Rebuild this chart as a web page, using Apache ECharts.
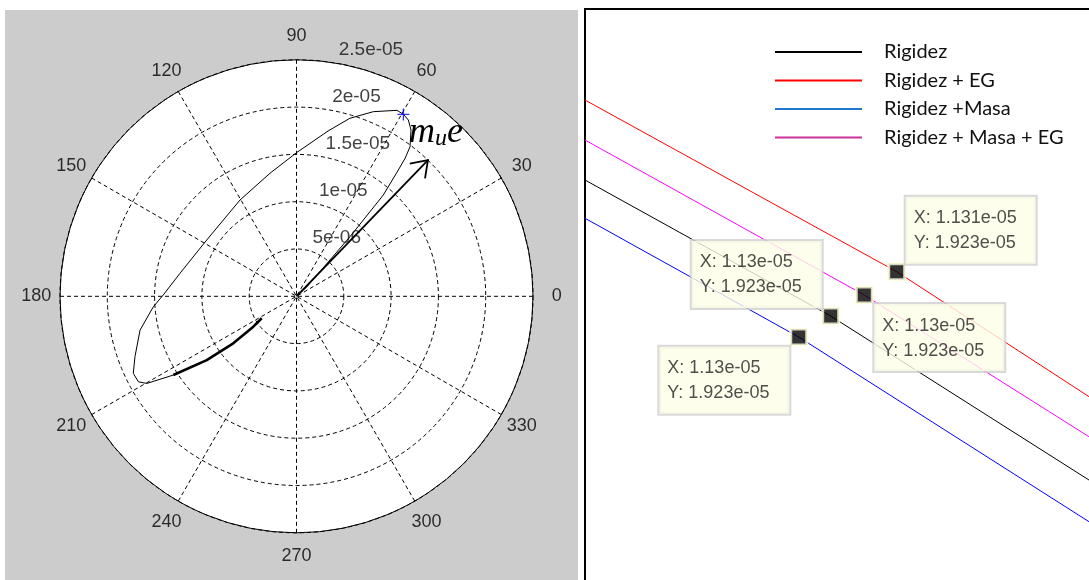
<!DOCTYPE html>
<html>
<head>
<meta charset="utf-8">
<title>Órbita polar y detalle del pico</title>
<script src="https://cdn.jsdelivr.net/npm/echarts@6.0.0/dist/echarts.min.js"></script>
<style>
  html, body { margin: 0; padding: 0; background: #ffffff; }
  #chart { width: 1089px; height: 580px; }
</style>
</head>
<body>
<div id="chart"></div>
<script>
// ---- Polar plot: ticks ----
const ANGLE_TICKS = [0, 30, 60, 90, 120, 150, 180, 210, 240, 270, 300, 330];
const RADIUS_TICKS = [5e-6, 1e-5, 1.5e-5, 2e-5, 2.5e-5];
const RADIUS_TICK_LABELS = ['5e-06', '1e-05', '1.5e-05', '2e-05', '2.5e-05'];
const R_MAX = 2.5e-5;
const R_STEP = 5e-6;

// ---- Polar plot: measured orbit (radius, angle in degrees) ----
const orbitRadius = [4.35e-6, 5.58e-6, 8.33e-6, 1.164e-5, 1.545e-5, 1.831e-5, 1.900e-5, 1.908e-5,
  1.823e-5, 1.692e-5, 1.518e-5, 1.408e-5, 1.255e-5, 1.120e-5, 1.180e-5, 1.330e-5, 1.520e-5,
  1.779e-5, 1.965e-5, 2.114e-5, 2.235e-5, 2.2304e-5, 2.207e-5, 2.134e-5, 1.985e-5, 1.856e-5,
  1.690e-5, 1.410e-5, 8.47e-6, 1.42e-6, 2.0e-7];
const orbitAngle = [212.3, 215.1, 216.6, 215.4, 212.6, 210.2, 208.4, 205.3,
  200.5, 192.2, 184.2, 179.4, 168.8, 147.9, 120.4, 102.2, 89.9,
  79.2, 73.3, 67.4, 61.6, 59.56, 57.6, 55.45, 52.8, 51.8,
  51.0, 49.4, 48.1, 42, 45];
const DENSE_COUNT = 5;     // first points of the orbit, traced many times
const PEAK_INDEX = 21;     // point marked with "+"

// unbalance vector m_u e
const unbalanceRadius = 2.0e-5;
const unbalanceAngle = 46;

// ---- Zoomed view near the peak: four cases ----
const rigidezX = [1.12678e-5, 1.129993e-5, 1.13358e-5];
const rigidezY = [1.924618e-5, 1.922843e-5, 1.920570e-5];
const rigidezEgX = [1.12678e-5, 1.130856e-5, 1.13358e-5];
const rigidezEgY = [1.925662e-5, 1.923422e-5, 1.921655e-5];
const rigidezMasaX = [1.12678e-5, 1.129575e-5, 1.13358e-5];
const rigidezMasaY = [1.924119e-5, 1.922569e-5, 1.920026e-5];
const rigidezMasaEgX = [1.12678e-5, 1.130432e-5, 1.13358e-5];
const rigidezMasaEgY = [1.925140e-5, 1.923117e-5, 1.921136e-5];
const TIP_INDEX = 1;        // vertex holding the data cursor
const ZOOM_X_RANGE = [1.12678e-5, 1.13358e-5];
const ZOOM_Y_RANGE = [1.91915e-5, 1.92685e-5];

const SERIES_NAMES = ['Rigidez', 'Rigidez + EG', 'Rigidez +Masa', 'Rigidez + Masa + EG'];

// ---------------------------------------------------------------
const POLAR_CENTER = [296.5, 296.3];
const POLAR_RADIUS = 236.5;

const zip = (a, b) => a.map((v, i) => [v, b[i]]);

// %.4g style number, e.g. 1.13e-05
function fmtG4(v) {
  const parts = v.toExponential(3).split('e');
  const mant = String(parseFloat(parts[0]));
  const exp = parseInt(parts[1], 10);
  return mant + 'e' + (exp < 0 ? '-' : '+') + String(Math.abs(exp)).padStart(2, '0');
}

// data-tip boxes: text width 111 + padding 19 = 130 px wide
const zoomCases = [
  { name: SERIES_NAMES[0], x: rigidezX, y: rigidezY, color: '#000000', legend: '#000000',
    tip: { position: [-129.5, 1.5], verticalAlign: 'bottom' } },
  { name: SERIES_NAMES[1], x: rigidezEgX, y: rigidezEgY, color: '#ff0000', legend: '#ff0000',
    tip: { position: [18.5, 1.5], verticalAlign: 'bottom' } },
  { name: SERIES_NAMES[2], x: rigidezMasaX, y: rigidezMasaY, color: '#0000ff', legend: '#2177cc',
    tip: { position: [-129.9, 19.2], verticalAlign: 'top' } },
  { name: SERIES_NAMES[3], x: rigidezMasaEgX, y: rigidezMasaEgY, color: '#ff00ff', legend: '#cc3399',
    tip: { position: [19.5, 18.5], verticalAlign: 'top' } }
];

const MATLAB_FONT = 'Liberation Sans, Arial, sans-serif';
const DASH = [4, 3];

const chart = echarts.init(document.getElementById('chart'), null, { renderer: 'canvas' });

const option = {
  animation: false,
  backgroundColor: '#ffffff',
  graphic: [
    { type: 'rect', z: -100, silent: true,
      shape: { x: 5, y: 10, width: 573, height: 570 },
      style: { fill: '#cccccc' } },
    { type: 'circle', z: -50, silent: true,
      shape: { cx: POLAR_CENTER[0], cy: POLAR_CENTER[1], r: POLAR_RADIUS },
      style: { fill: '#ffffff' } }
  ],
  polar: { center: POLAR_CENTER, radius: POLAR_RADIUS },
  angleAxis: {
    type: 'value', min: 0, max: 360, interval: 30,
    startAngle: 0, clockwise: false,
    axisLine: { show: true, lineStyle: { color: '#000000', width: 1 } },
    axisTick: { show: false },
    axisLabel: { show: false },
    splitLine: { show: true, lineStyle: { color: '#000000', width: 1, type: DASH } },
    splitArea: { show: false }
  },
  radiusAxis: {
    type: 'value', min: 0, max: R_MAX, interval: R_STEP,
    axisLine: { show: false },
    axisTick: { show: false },
    axisLabel: { show: false },
    splitLine: { show: true, lineStyle: { color: '#000000', width: 1, type: DASH } },
    splitArea: { show: false }
  },
  grid: {
    left: 585, top: 9, width: 520, height: 590,
    outerBoundsMode: 'none',
    show: true, backgroundColor: '#ffffff', borderColor: '#000000', borderWidth: 2
  },
  xAxis: { type: 'value', min: ZOOM_X_RANGE[0], max: ZOOM_X_RANGE[1], show: false },
  yAxis: { type: 'value', min: ZOOM_Y_RANGE[0], max: ZOOM_Y_RANGE[1], show: false },
  legend: {
    orient: 'vertical', left: 775, top: 42, padding: 0,
    itemWidth: 87, itemHeight: 2, itemGap: 8.5,
    icon: 'rect', selectedMode: false,
    textStyle: { fontFamily: 'Lato', fontSize: 20, color: '#111111', lineHeight: 20, padding: [0, 0, 0, 17] },
    data: zoomCases.map(c => ({ name: c.name, itemStyle: { color: c.legend } }))
  },
  series: [
    // angle tick labels, centred at 1.1 * R_MAX
    {
      type: 'scatter', coordinateSystem: 'polar', clip: false, silent: true,
      symbolSize: 0, z: 5,
      data: ANGLE_TICKS.map(a => [R_MAX * 1.1, a]),
      label: {
        show: true, position: [0, 0], align: 'center', verticalAlign: 'middle',
        fontFamily: MATLAB_FONT, fontSize: 18, color: '#000000',
        formatter: p => String(p.value[1])
      }
    },
    // radius tick labels along 82 degrees
    {
      type: 'scatter', coordinateSystem: 'polar', clip: false, silent: true,
      symbolSize: 0, z: 5,
      data: RADIUS_TICKS.map(r => [r + R_STEP / 20, 82]),
      label: {
        show: true, position: [0, 0], align: 'left', verticalAlign: 'bottom',
        padding: [0, 0, 0, 9],
        fontFamily: MATLAB_FONT, fontSize: 19, color: '#111111',
        formatter: p => RADIUS_TICK_LABELS[p.dataIndex]
      }
    },
    // orbit
    {
      type: 'line', coordinateSystem: 'polar', showSymbol: false, silent: true, z: 3,
      data: zip(orbitRadius, orbitAngle),
      lineStyle: { color: '#000000', width: 1 }
    },
    {
      type: 'line', coordinateSystem: 'polar', showSymbol: false, silent: true, z: 3,
      data: zip(orbitRadius.slice(0, DENSE_COUNT), orbitAngle.slice(0, DENSE_COUNT)),
      lineStyle: { color: '#000000', width: 2.6 }
    },
    // peak marker
    {
      type: 'scatter', coordinateSystem: 'polar', clip: false, silent: true, z: 6,
      symbol: 'path://M0,5L10,5M5,0L5,10', symbolSize: 12,
      data: [[orbitRadius[PEAK_INDEX], orbitAngle[PEAK_INDEX]]],
      itemStyle: { color: 'rgba(0,0,0,0)', borderColor: '#0000ff', borderWidth: 1.3 }
    },
    // unbalance vector with its label
    {
      type: 'custom', coordinateSystem: 'polar', silent: true, z: 7,
      data: [[unbalanceRadius, unbalanceAngle]],
      renderItem: function (params, api) {
        const tip = api.coord([api.value(0), api.value(1)]);
        const base = api.coord([0, api.value(1)]);
        const ang = Math.atan2(tip[1] - base[1], tip[0] - base[0]);
        const len = 18.5, spread = 35 * Math.PI / 180;
        const a1 = [tip[0] - len * Math.cos(ang - spread), tip[1] - len * Math.sin(ang - spread)];
        const a2 = [tip[0] - len * Math.cos(ang + spread), tip[1] - len * Math.sin(ang + spread)];
        return {
          type: 'group',
          children: [
            { type: 'line', shape: { x1: base[0], y1: base[1], x2: tip[0], y2: tip[1] },
              style: { stroke: '#000000', lineWidth: 1.8 } },
            { type: 'polyline', shape: { points: [a1, tip, a2] },
              style: { stroke: '#000000', fill: null, lineWidth: 1.8 } },
            { type: 'text', x: tip[0] - 19, y: tip[1] - 46,
              style: {
                text: '{m|m}{u|u}{e|e}', align: 'left', verticalAlign: 'top',
                rich: {
                  m: { font: 'italic 36px "Liberation Serif", serif', fill: '#000000' },
                  u: { font: 'italic 24px "Liberation Serif", serif', fill: '#000000', verticalAlign: 'bottom' },
                  e: { font: 'italic 36px "Liberation Serif", serif', fill: '#000000' }
                }
              } }
          ]
        };
      }
    }
  ]
};

// zoomed curves
zoomCases.forEach(c => {
  option.series.push({
    name: c.name, type: 'line', showSymbol: false, silent: true, z: 3,
    data: zip(c.x, c.y),
    lineStyle: { color: c.color, width: 1 },
    itemStyle: { color: c.color }
  });
});

// data cursors at the peak vertex of each curve
option.series.push({
  name: 'cursor', type: 'scatter', silent: true, z: 8, clip: false,
  symbol: 'rect', symbolSize: 16,
  itemStyle: { color: '#000000', borderColor: '#ffffe0', borderWidth: 3 },
  data: zoomCases.map(c => ({
    value: [c.x[TIP_INDEX], c.y[TIP_INDEX]],
    label: c.tip
  })),
  label: {
    show: true, align: 'left', width: 111,
    fontFamily: MATLAB_FONT, fontSize: 18, lineHeight: 25, color: '#222222',
    backgroundColor: '#fefee8', borderColor: '#d0d0d0', borderWidth: 2,
    padding: [9, 11, 8, 8],
    formatter: p => 'X: ' + fmtG4(p.value[0]) + '\nY: ' + fmtG4(p.value[1])
  }
});

chart.setOption(option);
</script>
</body>
</html>
